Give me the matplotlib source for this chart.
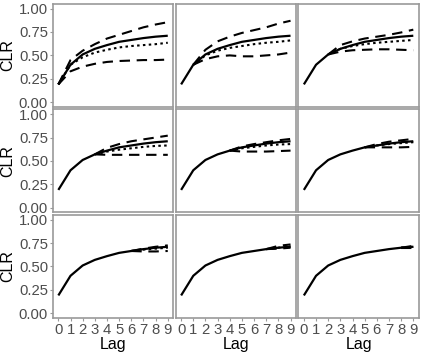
import matplotlib
matplotlib.use("Agg")
import matplotlib.pyplot as plt
import numpy as np

lags = [0, 1, 2, 3, 4, 5, 6, 7, 8, 9]
truth = [0.19, 0.40, 0.51, 0.57, 0.61, 0.645, 0.665, 0.685, 0.70, 0.71]

origins = [0, 1, 2, 3, 4, 5, 6, 7, 8]
upper = [
    [0.19, 0.45, 0.55, 0.62, 0.68, 0.72, 0.76, 0.80, 0.83, 0.855],
    [0.40, 0.56, 0.65, 0.70, 0.74, 0.77, 0.80, 0.84, 0.87],
    [0.51, 0.61, 0.65, 0.68, 0.70, 0.72, 0.745, 0.775],
    [0.57, 0.64, 0.68, 0.71, 0.73, 0.75, 0.77],
    [0.61, 0.655, 0.68, 0.70, 0.72, 0.735],
    [0.645, 0.68, 0.705, 0.72, 0.735],
    [0.665, 0.69, 0.71, 0.725],
    [0.685, 0.72, 0.735],
    [0.70, 0.72],
]
lower = [
    [0.19, 0.33, 0.38, 0.41, 0.43, 0.44, 0.445, 0.45, 0.45, 0.455],
    [0.40, 0.46, 0.49, 0.50, 0.49, 0.49, 0.50, 0.51, 0.53],
    [0.51, 0.54, 0.555, 0.56, 0.565, 0.565, 0.56, 0.555],
    [0.57, 0.565, 0.565, 0.565, 0.565, 0.565, 0.565],
    [0.61, 0.60, 0.60, 0.60, 0.605, 0.61],
    [0.645, 0.645, 0.645, 0.645, 0.65],
    [0.665, 0.66, 0.66, 0.665],
    [0.685, 0.69, 0.70],
    [0.70, 0.70],
]
mean = [
    [0.19, 0.40, 0.48, 0.53, 0.56, 0.585, 0.60, 0.61, 0.62, 0.635],
    [0.40, 0.50, 0.55, 0.58, 0.60, 0.62, 0.635, 0.645, 0.66],
    [0.51, 0.57, 0.60, 0.62, 0.635, 0.645, 0.655, 0.665],
    [0.57, 0.60, 0.62, 0.635, 0.65, 0.66, 0.665],
    [0.61, 0.635, 0.65, 0.665, 0.675, 0.68],
    [0.645, 0.665, 0.68, 0.69, 0.70],
    [0.665, 0.68, 0.69, 0.70],
    [0.685, 0.70, 0.715],
    [0.70, 0.71],
]

yticks = [0.00, 0.25, 0.50, 0.75, 1.00]
ytick_labels = ["0.00", "0.25", "0.50", "0.75", "1.00"]

plt.rcParams['font.family'] = ['Liberation Sans', 'DejaVu Sans']

fig = plt.figure(figsize=(4.23, 3.56), dpi=100)
gs = fig.add_gridspec(3, 3, left=0.125, right=0.99, top=0.989, bottom=0.107,
                      wspace=0.02, hspace=0.025)

tick_col = "#4D4D4D"
border_col = "#999999"

for i in range(9):
    r, c = divmod(i, 3)
    ax = fig.add_subplot(gs[r, c])
    o = origins[i]
    fl = lags[o:]
    ax.plot(lags, truth, color="black", lw=1.6, solid_capstyle="butt", zorder=3)
    ax.plot(fl, upper[i], color="black", lw=1.5, dashes=(5.0, 3.2))
    ax.plot(fl, lower[i], color="black", lw=1.5, dashes=(5.0, 3.2))
    ax.plot(fl, mean[i], color="black", lw=1.5, dashes=(1.2, 1.6))
    ax.set_xlim(-0.45, 9.45)
    ax.set_ylim(-0.05, 1.05)
    ax.set_xticks(lags)
    ax.set_yticks(yticks)
    for s in ax.spines.values():
        s.set_color(border_col)
        s.set_linewidth(1.2)
    ax.tick_params(axis="both", colors=border_col, length=2.5, width=0.8,
                   labelcolor=tick_col, labelsize=10.7, pad=1)
    if c == 0:
        ax.set_yticklabels(ytick_labels)
        ax.set_ylabel("CLR", fontsize=11.5)
        ax.yaxis.set_label_coords(-0.31, 0.5)
    else:
        ax.tick_params(axis="y", left=False, labelleft=False)
    if r == 2:
        ax.set_xticklabels([str(l) for l in lags])
        ax.set_xlabel("Lag", fontsize=11.5, labelpad=0)
    else:
        ax.tick_params(axis="x", bottom=False, labelbottom=False)

fig.savefig("out.png", dpi=100)
